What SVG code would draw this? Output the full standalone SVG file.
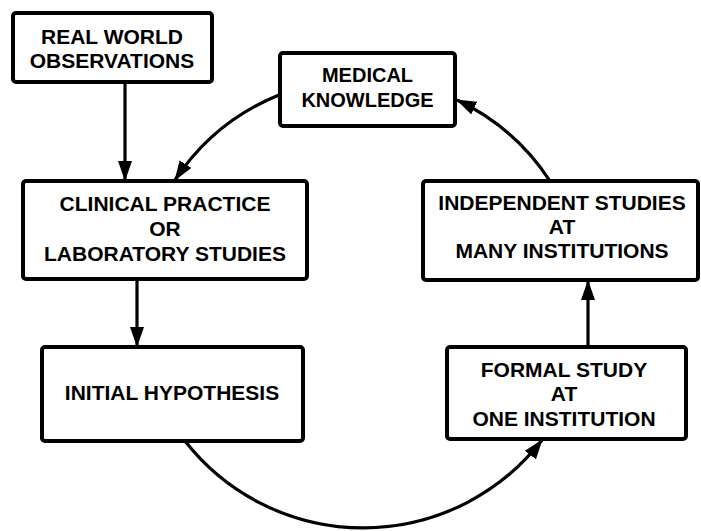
<svg xmlns="http://www.w3.org/2000/svg" width="701" height="531" viewBox="0 0 701 531">
  <style>
    .box { fill: #ffffff; stroke: #000000; stroke-width: 4; }
    .lbl { font-family: "Liberation Sans", Arial, sans-serif; font-weight: bold; font-size: 21px; fill: #000000; text-anchor: middle; }
    .sm { font-size: 20px; }
    .conn { fill: none; stroke: #000000; stroke-width: 3.2; }
  </style>
  <defs>
    <marker id="arrow" viewBox="0 0 20 14" refX="19" refY="7" markerWidth="20" markerHeight="14" markerUnits="userSpaceOnUse" orient="auto">
      <path d="M0,0 L20,7 L0,14 z" fill="#000000"/>
    </marker>
  </defs>
  <rect width="701" height="531" fill="#ffffff"/>

  <g id="connectors">
    <path class="conn" d="M125,82 L125,180" marker-end="url(#arrow)"/>
    <path class="conn" d="M137,279 L137,346" marker-end="url(#arrow)"/>
    <path class="conn" d="M588,347 L588,281" marker-end="url(#arrow)"/>
    <path class="conn" d="M185,441 A226,226 0 0 0 542,440" marker-end="url(#arrow)"/>
    <path class="conn" d="M550,181 A226,226 0 0 0 457,100" marker-end="url(#arrow)"/>
    <path class="conn" d="M279,95 A226,226 0 0 0 175,180" marker-end="url(#arrow)"/>
  </g>

  <g id="real-world">
    <rect class="box" x="13" y="13" width="199" height="69" rx="3"/>
    <text class="lbl" x="112" y="44" font-size="20.5">REAL WORLD</text>
    <text class="lbl" x="112" y="68" font-size="20.5">OBSERVATIONS</text>
  </g>

  <g id="medical-knowledge">
    <rect class="box" x="280" y="53" width="175" height="73" rx="3"/>
    <text class="lbl sm" x="367.5" y="82">MEDICAL</text>
    <text class="lbl sm" x="367.5" y="107">KNOWLEDGE</text>
  </g>

  <g id="clinical-practice">
    <rect class="box" x="23" y="181" width="284" height="98" rx="3"/>
    <text class="lbl" x="165" y="211">CLINICAL PRACTICE</text>
    <text class="lbl" x="165" y="236">OR</text>
    <text class="lbl" x="165" y="261">LABORATORY STUDIES</text>
  </g>

  <g id="independent-studies">
    <rect class="box" x="423" y="181" width="275" height="99" rx="3"/>
    <text class="lbl" x="562" y="210">INDEPENDENT STUDIES</text>
    <text class="lbl" x="562" y="234">AT</text>
    <text class="lbl" x="562" y="258">MANY INSTITUTIONS</text>
  </g>

  <g id="initial-hypothesis">
    <rect class="box" x="42" y="347" width="261" height="94" rx="3"/>
    <text class="lbl" x="172" y="400">INITIAL HYPOTHESIS</text>
  </g>

  <g id="formal-study">
    <rect class="box" x="447" y="347" width="239" height="92" rx="3"/>
    <text class="lbl" x="564" y="377">FORMAL STUDY</text>
    <text class="lbl" x="564" y="401">AT</text>
    <text class="lbl" x="564" y="426">ONE INSTITUTION</text>
  </g>
</svg>
